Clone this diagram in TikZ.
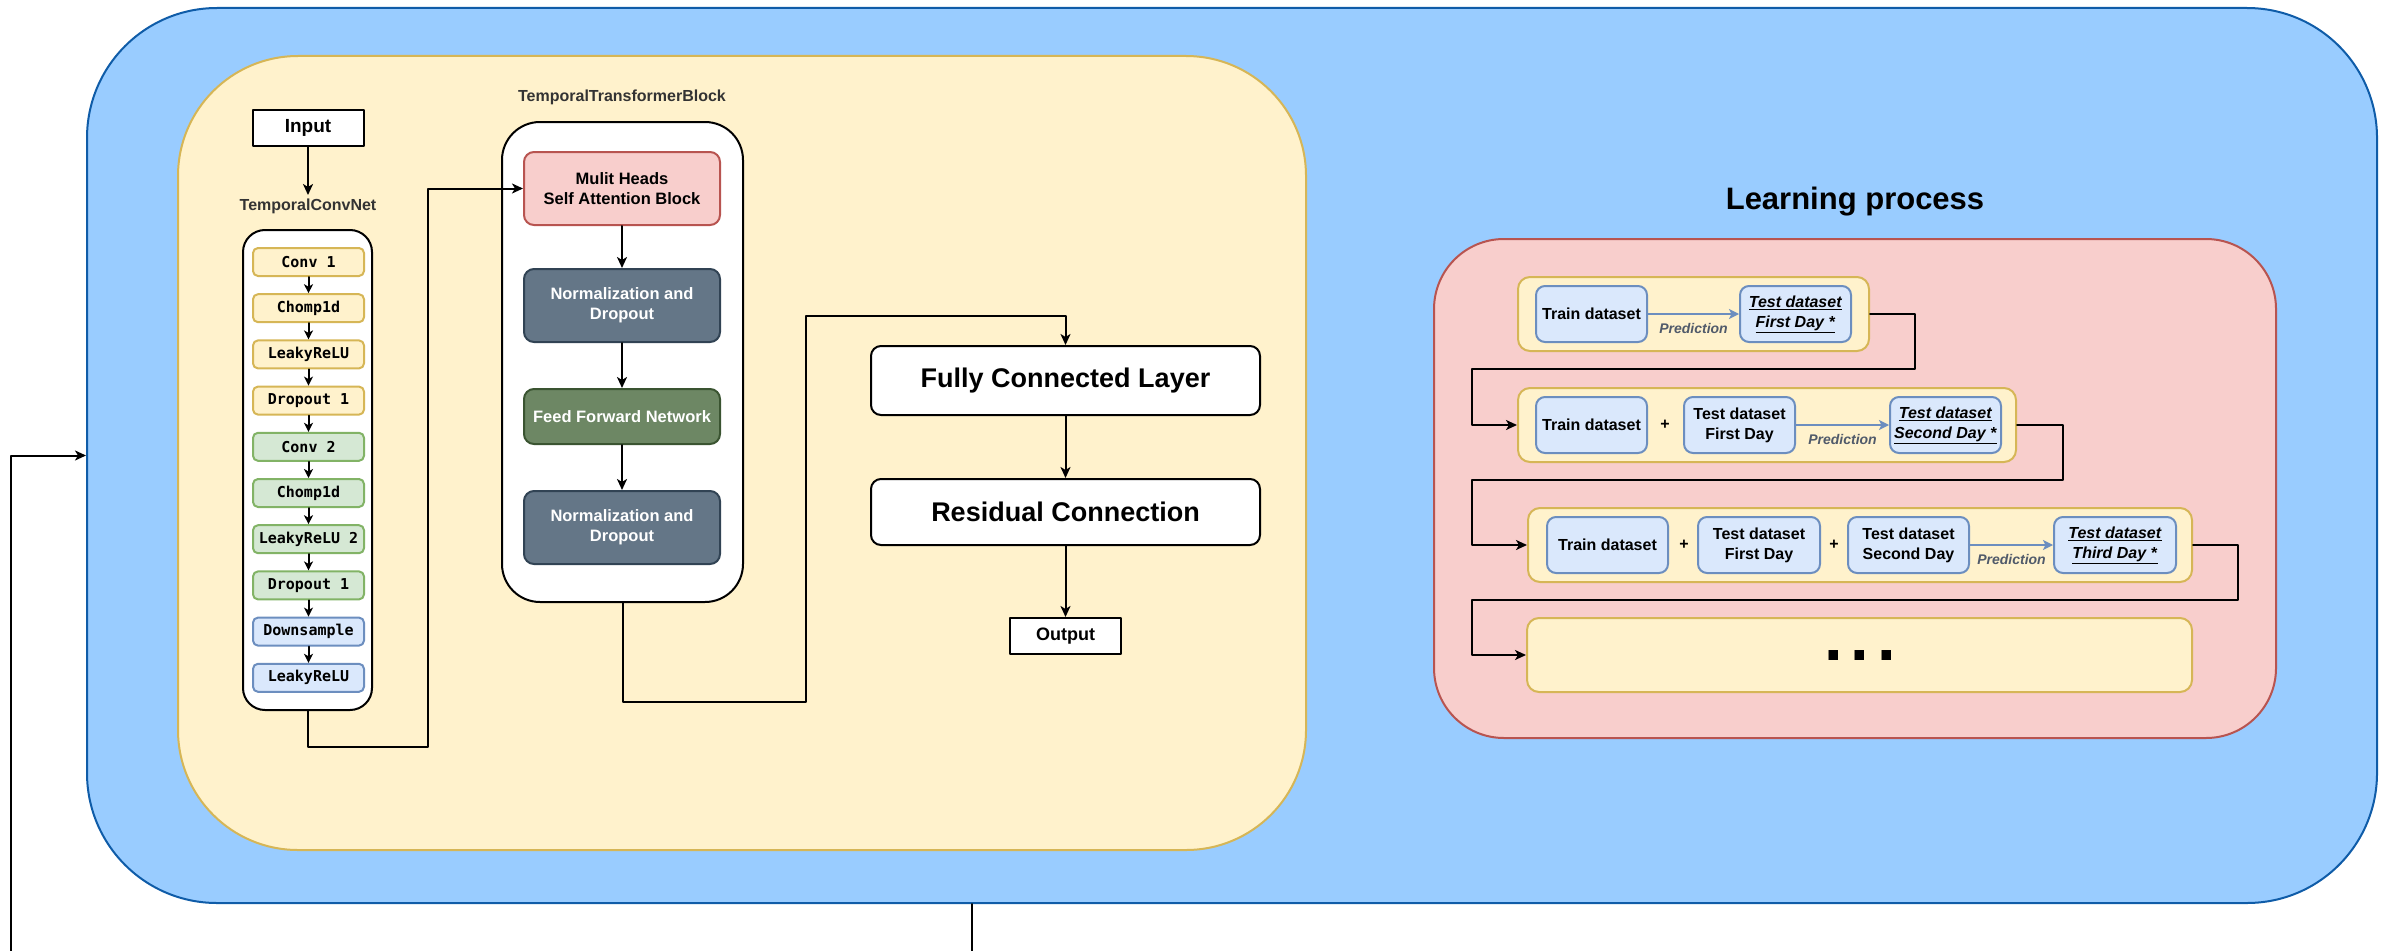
\documentclass[tikz,border=0pt]{standalone}
\usepackage{fontspec}
\setmainfont{Liberation Sans}
\newfontfamily\codefont{DejaVu Sans Mono}
\usetikzlibrary{arrows.meta}

\definecolor{modelblue}{HTML}{99CCFF}
\definecolor{modelline}{HTML}{0F5CA8}
\definecolor{paleyellow}{HTML}{FFF2CC}
\definecolor{yellowline}{HTML}{D6B656}
\definecolor{palegreen}{HTML}{D5E8D4}
\definecolor{greenline}{HTML}{82B366}
\definecolor{paleblue}{HTML}{DAE8FC}
\definecolor{blueline}{HTML}{6C8EBF}
\definecolor{palered}{HTML}{F8CECC}
\definecolor{redline}{HTML}{B85450}
\definecolor{slate}{HTML}{647687}
\definecolor{slateline}{HTML}{314354}
\definecolor{moss}{HTML}{6D8764}
\definecolor{mossline}{HTML}{3A5431}
\definecolor{labelgray}{HTML}{333333}
\definecolor{predgray}{HTML}{505A6A}

\newcommand{\fsz}[2]{\fontsize{#1}{#2}\selectfont}
\newcommand{\target}[1]{\underline{\textit{#1}}}

\begin{document}
\begin{tikzpicture}[line cap=round,line join=round,x=1pt,y=-1pt,
		>={Stealth[length=11pt,width=10pt,inset=3pt]},
		sized/.style 2 args={minimum width=#1pt,minimum height=#2pt},
		panel/.style={draw,line width=2pt,rounded corners=#1,inner sep=0pt,align=center},
		panel/.default=10pt,
		plainbox/.style={panel=0pt,fill=white,draw=black},
		layerbox/.style={panel=5pt,sized={111}{28},font=\codefont\bfseries\fsz{15}{18}},
		blockbox/.style={panel=10pt,font=\bfseries\fsz{16.5}{20}},
		databox/.style={panel=9pt,fill=paleblue,draw=blueline,font=\bfseries\fsz{16}{20}},
		rowbox/.style={panel=12pt,fill=paleyellow,draw=yellowline},
		grouplabel/.style={text=labelgray,font=\bfseries\fsz{16}{20}},
		plus/.style={font=\bfseries\fsz{16}{20}},
		flow/.style={->,line width=2pt},
		smallflow/.style={-{Stealth[length=9pt,width=9pt,inset=2.5pt]},line width=2pt},
		predflow/.style={-{Stealth[length=10pt,width=10pt,inset=2.5pt]},line width=2.5pt,draw=blueline},
		predlabel/.style={text=predgray,font=\bfseries\itshape\fsz{14}{17}}]
		\useasboundingbox (0,0) rectangle (2392,950);
		\clip (0,0) rectangle (2392,950);

		\node[panel=130pt,sized={2290}{895},fill=modelblue,draw=modelline] (model) at (1232,455.5) {};
		\node[panel=120pt,sized={1128}{794},fill=paleyellow,draw=yellowline] (stage) at (742,453) {};

		\node[plainbox,sized={111}{36},font=\bfseries\fsz{19}{23}] (input) at (308,128) {Input};
		\node[grouplabel] (tcnlabel) at (308,206) {TemporalConvNet};
		\draw[flow] (input) -- (tcnlabel);
		\node[panel=22pt,sized={129}{480},fill=white,draw=black] (tcn) at (307.5,470) {};
		\foreach \name/\txt/\fillc/\linec [count=\i from 0] in {c1/Conv 1/paleyellow/yellowline,c2/Chomp1d/paleyellow/yellowline,c3/LeakyReLU/paleyellow/yellowline,c4/Dropout 1/paleyellow/yellowline,c5/Conv 2/palegreen/greenline,c6/Chomp1d/palegreen/greenline,c7/LeakyReLU 2/palegreen/greenline,c8/Dropout 1/palegreen/greenline,c9/Downsample/paleblue/blueline,c10/LeakyReLU/paleblue/blueline}
			\node[layerbox,fill=\fillc,draw=\linec] (\name) at (308.5,{262+46.2*\i}) {\txt};
		\foreach \a/\b in {c1/c2,c2/c3,c3/c4,c4/c5,c5/c6,c6/c7,c7/c8,c8/c9,c9/c10}
			\draw[smallflow] (\a) -- (\b);

		\node[grouplabel] (ttblabel) at (622,97) {TemporalTransformerBlock};
		\node[panel=38pt,sized={241}{480},fill=white,draw=black] (ttb) at (622.5,362) {};
		\node[blockbox,sized={196}{73},fill=palered,draw=redline] (mha) at (622,188.5) {Mulit Heads\\Self Attention Block};
		\node[blockbox,sized={196}{73},fill=slate,draw=slateline,text=white] (norm1) at (622,305.5) {Normalization and\\Dropout};
		\node[blockbox,sized={196}{55},fill=moss,draw=mossline,text=white] (ffn) at (622,416.5) {Feed Forward Network};
		\node[blockbox,sized={196}{73},fill=slate,draw=slateline,text=white] (norm2) at (622,527.5) {Normalization and\\Dropout};
		\draw[flow] (mha) -- (norm1);
		\draw[flow] (norm1) -- (ffn);
		\draw[flow] (ffn) -- (norm2);
		\draw[flow] (tcn.south) |- (428,747) |- (mha.west);

		\node[plainbox,rounded corners=10pt,sized={389}{69},font=\bfseries\fsz{27}{32}] (fc) at (1065.5,380.5) {Fully Connected Layer};
		\node[plainbox,rounded corners=10pt,sized={389}{66},font=\bfseries\fsz{27}{32}] (res) at (1065.5,512) {Residual Connection};
		\node[plainbox,sized={111}{36},font=\bfseries\fsz{18}{22}] (output) at (1065.5,636) {Output};
		\draw[flow] (ttb.south) |- (806,702) -- (806,316) -| (fc.north);
		\draw[flow] (fc) -- (res);
		\draw[flow] (res) -- (output);

		\node[font=\bfseries\fsz{31}{37}] (lptitle) at (1855,202) {Learning process};
		\node[panel=70pt,sized={842}{499},fill=palered,draw=redline] (lp) at (1855,488.5) {};

		\node[rowbox,sized={351}{74}] (row1) at (1693.5,314) {};
		\node[databox,sized={111}{56}] (train1) at (1591.5,314) {Train dataset};
		\node[databox,sized={111}{56}] (day1) at (1795.5,314) {\target{Test dataset}\\\target{First Day *}};
		\draw[predflow] (train1) -- (day1) node[predlabel,midway,yshift=-14pt] {Prediction};

		\node[rowbox,sized={498}{74}] (row2) at (1767,425) {};
		\node[databox,sized={111}{56}] (train2) at (1591.5,425) {Train dataset};
		\node[plus] (plus2) at (1665,425) {+};
		\node[databox,sized={111}{56}] (first2) at (1739.5,425) {Test dataset\\First Day};
		\node[databox,sized={111}{56}] (day2) at (1945.5,425) {\target{Test dataset}\\\target{Second Day *}};
		\draw[predflow] (first2) -- (day2) node[predlabel,midway,yshift=-14pt] {Prediction};

		\node[rowbox,sized={664}{74}] (row3) at (1860,545) {};
		\node[databox,sized={121}{56}] (train3) at (1607.5,545) {Train dataset};
		\node[plus] (plus3a) at (1684,545) {+};
		\node[databox,sized={122}{56}] (first3) at (1759,545) {Test dataset\\First Day};
		\node[plus] (plus3b) at (1834,545) {+};
		\node[databox,sized={121}{56}] (second3) at (1908.5,545) {Test dataset\\Second Day};
		\node[databox,sized={122}{56}] (day3) at (2115,545) {\target{Test dataset}\\\target{Third Day *}};
		\draw[predflow] (second3) -- (day3) node[predlabel,midway,yshift=-14pt] {Prediction};

		\node[rowbox,sized={665}{74}] (row4) at (1859.5,655) {};
		\node[font=\bfseries\fsz{67}{70}] (dots) at (1860,656) {.\kern8pt.\kern8pt.};

		\draw[flow] (row1.east) -| (1915,369) -| (1472,425) -- (row2.west);
		\draw[flow] (row2.east) -| (2063,480) -| (1472,545) -- (row3.west);
		\draw[flow] (row3.east) -| (2238,600) -| (1472,655) -- (row4.west);

		\draw[flow] (972,0 |- model.south) -- (972,990) -| ([xshift=-75pt]model.west) -- (model.west);
	\end{tikzpicture}
\end{document}
